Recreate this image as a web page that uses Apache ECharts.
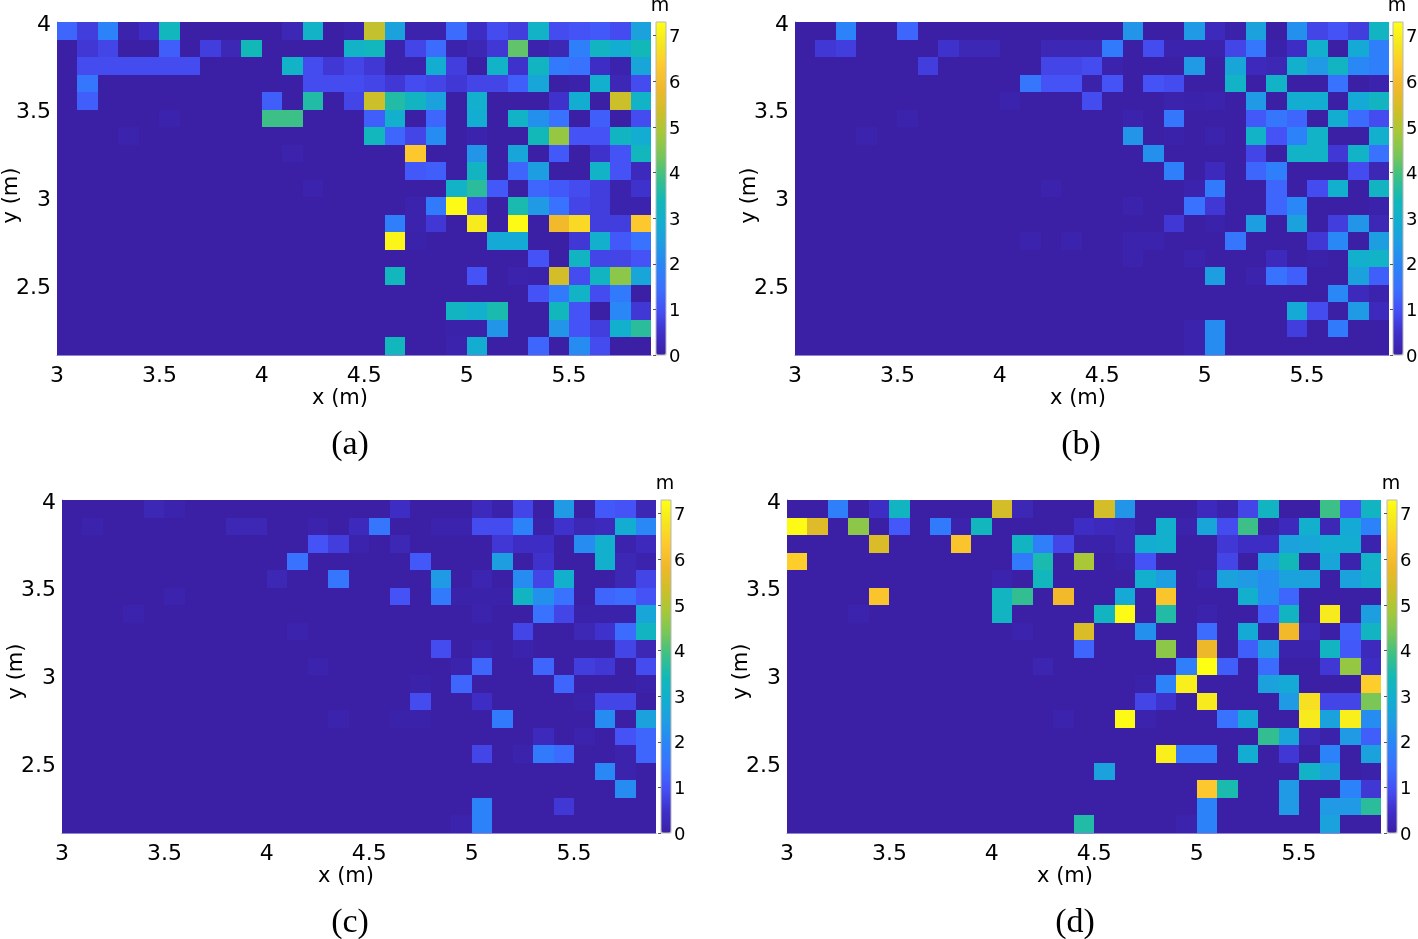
<!DOCTYPE html>
<html>
<head>
<meta charset="utf-8">
<style>html,body{margin:0;padding:0;background:#fff}#c{width:1418px;height:939px}</style>
<script src="https://cdn.jsdelivr.net/npm/echarts@6/dist/echarts.min.js"></script>
</head>
<body>
<div id="c"></div>
<script>
const xCells = [3.0,3.1,3.2,3.3,3.4,3.5,3.6,3.7,3.8,3.9,4.0,4.1,4.2,4.3,4.4,4.5,4.6,4.7,4.8,4.9,5.0,5.1,5.2,5.3,5.4,5.5,5.6,5.7,5.8];
const yCells = [3.9,3.8,3.7,3.6,3.5,3.4,3.3,3.2,3.1,3.0,2.9,2.8,2.7,2.6,2.5,2.4,2.3,2.2,2.1];
const xTicks = [3,3.5,4,4.5,5,5.5];
const yTicks = [2.5,3,3.5,4];
const barTicks = [0,1,2,3,4,5,6,7];
const captions = ['(a)','(b)','(c)','(d)'];

const panelA = [
[1.3,.7,1.9,.1,.4, 3.3,0,0,0,0, 0,.2,3.1,0,.1, 5.2,2.6,.1,.1,1.4, .4,.9,.7,3.1,.9, 1,1.1,.9,2.6],
[0,.6,.8,0,0, 1.2,0,.7,.2,3.4, 0,0,0,0,3.1, 3.3,.1,.8,1.4,.1, .2,.6,4.2,.1,.2, 1.8,3.2,2.9,3.4],
[0,.9,.9,.9,.9, .9,.9,0,0,0, 0,3.1,.9,.6,.8, .6,.1,.1,2.9,.7, 0,3.1,.5,3.2,1.7, 1.5,.4,.1,2.7],
[0,1.6,0,0,0, 0,0,0,0,0, 0,0,.9,.9,.9, .8,.6,.9,.8,.6, .8,.8,1.2,2.7,0, .05,3,.2,.9],
[0,1.2,0,0,0, 0,0,0,0,0, 1.2,0,3.6,0,.8, 5.3,3.6,3.2,2.6,0, 3,0,0,0,.5, 2.9,0,5.3,3.1],
[0,0,0,0,0, .1,0,0,0,0, 3.9,3.9,0,0,0, 1.2,3,0,1.3,0, 2.9,0,3.1,2.2,1.5, 0,1.2,0,.9],
[0,0,0,.1,0, 0,0,0,0,0, 0,0,0,0,0, 3.3,1.3,.8,2.1,0, .1,0,0,3.4,4.7, 1,1,3.2,2.9],
[0,0,0,0,0, 0,0,0,0,0, 0,.1,0,0,0, 0,0,6.3,0,0, 2.3,0,2.7,0,1.1, 0,.5,1,3.3],
[0,0,0,0,0, 0,0,0,0,0, 0,0,0,0,0, 0,0,1.1,1.2,0, 3.2,0,1.3,2.5,0, 0,3.1,1,.3],
[0,0,0,0,0, 0,0,0,0,0, 0,0,.1,0,0, 0,0,0,0,3.1, 3.7,1.1,0,1.3,1.1, .9,.7,.1,.5],
[0,0,0,0,0, 0,0,0,0,0, 0,0,0,0,0, 0,0,.1,1.7,7.2, .8,0,3.5,2.4,1.5, .8,.7,.1,.1],
[0,0,0,0,0, 0,0,0,0,0, 0,0,0,0,0, 0,1.8,.1,.6,0, 6.9,0,7.2,0,5.9, 6.6,.7,.7,6.3],
[0,0,0,0,0, 0,0,0,0,0, 0,0,0,0,0, 0,7.1,.05,0,0, 0,2.8,2.8,0,0, .6,3,1.1,1.5],
[0,0,0,0,0, 0,0,0,0,0, 0,0,0,0,0, 0,0,0,0,0, 0,0,0,1,0, 3.2,.8,.8,1],
[0,0,0,0,0, 0,0,0,0,0, 0,0,0,0,0, 0,3.3,0,0,0, 1,0,.1,.05,5.4, .9,3.2,4.6,2.7],
[0,0,0,0,0, 0,0,0,0,0, 0,0,0,0,0, 0,0,0,0,0, 0,0,0,1,1.7, 3.1,.9,1.7,0],
[0,0,0,0,0, 0,0,0,0,0, 0,0,0,0,0, 0,0,0,0,3.2, 3,3.5,0,0,3.3, 1,0,2,.6],
[0,0,0,0,0, 0,0,0,0,0, 0,0,0,0,0, 0,0,0,0,.05, .05,2.3,0,0,2.3, 1,.7,3,3.7],
[0,0,0,0,0, 0,0,0,0,0, 0,0,0,0,0, 0,3.3,0,0,.1, 2.9,0,0,1.3,0, 2.1,.9,0,0]
];
const panelB = [
[0,0,1.9,0,0, 1.3,0,0,0,0, 0,0,0,0,0, 0,2.3,0,0,2.4, .3,.05,2.6,0,2.2, .8,1,.7,3.2],
[0,.6,.7,0,0, 0,0,.5,.2,.2, 0,0,.2,.2,.2, 1.7,0,.9,.1,.1, .1,.8,1.6,.05,.4, 3,0,2.8,1.8],
[0,0,0,0,0, 0,.7,0,0,0, 0,0,.8,.8,.9, .1,0,0,0,2.4, 0,2.7,.3,.2,3, 2.4,3.2,2,1.8],
[0,0,0,0,0, 0,0,0,0,0, 0,1.6,1,1,.05, 1,0,1,.9,0, 0,3.1,0,3.1,0, 0,1.5,0,.1],
[0,0,0,0,0, 0,0,0,0,0, .1,0,0,0,.9, 0,0,0,.1,.05, .1,0,2.4,0,2.9, 2.9,0,2.8,3.2],
[0,0,0,0,0, .1,0,0,0,0, 0,0,0,0,0, 0,.1,0,1.6,0, 0,0,1.1,1.6,1.3, 0,2.9,1.4,.9],
[0,0,0,.1,0, 0,0,0,0,0, 0,0,0,0,0, 0,2.3,0,.05,0, .1,0,3.1,1,1.9, 3.1,0,0,3],
[0,0,0,0,0, 0,0,0,0,0, 0,0,0,0,0, 0,0,2.2,0,0, 0,0,.8,0,3.1, 3.1,.6,3.1,1.5],
[0,0,0,0,0, 0,0,0,0,0, 0,0,0,0,0, 0,0,0,1.8,0, .3,0,1.3,1.8,0, 0,0,.9,.2],
[0,0,0,0,0, 0,0,0,0,0, 0,0,.1,0,0, 0,0,0,0,.1, 1.7,0,0,1.3,0, .9,3,0,3.2],
[0,0,0,0,0, 0,0,0,0,0, 0,0,0,0,0, 0,.1,0,0,1.5, .6,0,0,1.3,2, 0,0,0,.05],
[0,0,0,0,0, 0,0,0,0,0, 0,0,0,0,0, 0,0,0,.6,0, .05,0,2.5,0,2.6, 0,.7,2.3,.2],
[0,0,0,0,0, 0,0,0,0,0, 0,.1,0,.1,0, 0,.1,.1,0,0, 0,1.6,0,0,0, .6,2,0,2.5],
[0,0,0,0,0, 0,0,0,0,0, 0,0,0,0,0, 0,.1,0,0,.1, 0,0,0,.3,0, .05,0,3,3.1],
[0,0,0,0,0, 0,0,0,0,0, 0,0,0,0,0, 0,0,0,0,0, 2.5,0,.1,1.5,1.2, 0,0,2.6,1.2],
[0,0,0,0,0, 0,0,0,0,0, 0,0,0,0,0, 0,0,0,0,0, 0,0,0,0,0, 0,2,.3,.1],
[0,0,0,0,0, 0,0,0,0,0, 0,0,0,0,0, 0,0,0,0,0, 0,0,0,0,2.8, .9,0,2.4,.3],
[0,0,0,0,0, 0,0,0,0,0, 0,0,0,0,0, 0,0,0,0,.1, 2.1,0,0,0,.7, 0,1.7,0,0],
[0,0,0,0,0, 0,0,0,0,0, 0,0,0,0,0, 0,0,0,0,.1, 2.1,0,0,0,0, 0,0,0,0]
];
const panelC = [
[0,0,0,0,.2, .1,0,0,0,0, 0,0,0,0,0, 0,.4,0,0,0, .3,.05,.8,0,2.4, 0,1.1,1,.2],
[0,.1,0,0,0, 0,0,0,.2,.2, 0,0,.1,0,.3, 1.6,0,0,.1,.1, .9,.9,1.9,.05,.5, .2,.3,2.9,2],
[0,0,0,0,0, 0,0,0,0,0, 0,0,1,.7,.1, 0,.2,0,0,0, 0,.6,.4,.4,0, 2.1,3,.1,.3],
[0,0,0,0,0, 0,0,0,0,0, 0,1.5,0,0,0, 0,0,1.1,0,0, 0,2.5,0,.5,0, 0,3,.2,.1],
[0,0,0,0,0, 0,0,0,0,0, .2,0,0,1.6,0, 0,0,0,2.4,0, .15,0,2.1,.8,3, 0,0,.2,.8],
[0,0,0,0,0, .1,0,0,0,0, 0,0,0,0,0, 0,1,0,1.7,.05, .05,.05,3.2,2.2,1.5, 0,1.3,1.4,1],
[0,0,0,.1,0, 0,0,0,0,0, 0,0,0,0,0, 0,0,0,0,0, .1,0,0,1.5,.8, .05,.05,.05,2.7],
[0,0,0,0,0, 0,0,0,0,0, 0,.1,0,0,0, 0,0,0,0,0, 0,0,.8,0,0, .2,.5,1.4,3.2],
[0,0,0,0,0, 0,0,0,0,0, 0,0,0,0,0, 0,0,0,.9,0, .1,0,.1,0,0, 0,0,.8,.2],
[0,0,0,0,0, 0,0,0,0,0, 0,0,.1,0,0, 0,0,0,0,.1, 1.3,0,0,1.3,0, .7,.6,0,.9],
[0,0,0,0,0, 0,0,0,0,0, 0,0,0,0,0, 0,0,.05,0,1.3, 0,0,0,0,1.3, 0,0,0,.05],
[0,0,0,0,0, 0,0,0,0,0, 0,0,0,0,0, 0,0,.9,0,0, .4,0,0,0,0, .05,.8,.8,0],
[0,0,0,0,0, 0,0,0,0,0, 0,0,0,.1,0, 0,.05,.05,0,0, 0,1.7,0,0,0, 0,2.1,0,2.6],
[0,0,0,0,0, 0,0,0,0,0, 0,0,0,0,0, 0,0,0,0,0, 0,0,0,.3,0, .1,0,1,1.3],
[0,0,0,0,0, 0,0,0,0,0, 0,0,0,0,0, 0,0,0,0,0, .8,0,.1,1.7,1.4, 0,0,.1,1.3],
[0,0,0,0,0, 0,0,0,0,0, 0,0,0,0,0, 0,0,0,0,0, 0,0,0,0,0, 0,2,.1,0],
[0,0,0,0,0, 0,0,0,0,0, 0,0,0,0,0, 0,0,0,0,0, 0,0,0,0,0, 0,0,2.1,0],
[0,0,0,0,0, 0,0,0,0,0, 0,0,0,0,0, 0,0,0,0,0, 1.9,0,0,0,.6, 0,0,0,0],
[0,0,0,0,0, 0,0,0,0,0, 0,0,0,0,0, 0,0,0,0,.1, 1.9,0,0,0,0, 0,0,0,0]
];
const panelD = [
[0,0,1.8,0,.4, 3.2,0,0,0,0, 5.4,.2,0,0,0, 5.4,2.3,0,0,0, .3,.1,.8,3.2,0, 0,3.9,1,3.2],
[7.2,5.6,0,4.6,0, 1.1,0,1.7,.1,3.3, 0,0,0,0,.4, .3,.2,0,3,.1, 2.7,.9,3.9,.05,.3, 3,.2,2.8,1.9],
[0,0,0,0,5.5, 0,0,0,6.2,0, 0,3.2,1.8,.8,.05, .05,.2,2.9,3,0, 0,.6,.4,.4,2.6, 2.7,2.9,2.9,.1],
[6.4,0,0,0,0, 0,0,0,0,0, 0,1.7,3.5,0,4.9, 0,.05,1,0,0, 0,.8,0,2.5,3.4, 0,2.7,.1,3.1],
[0,0,0,0,0, 0,0,0,0,0, .1,0,3.3,0,0, 0,0,3,2.5,0, .1,2.6,2.4,2.1,2.6, 2.6,0,2.6,3],
[0,0,0,0,6.2, 0,0,0,0,0, 3.2,3.8,0,5.9,0, 0,2.8,0,6.2,0, 0,0,3,2.1,1.3, 0,0,0,0],
[0,0,0,.1,0, 0,0,0,0,0, 3.2,0,0,0,0, 3.2,7.2,0,3.6,0, .1,0,0,1.2,3.2, 0,6.9,0,2.5],
[0,0,0,0,0, 0,0,0,0,0, 0,.1,0,0,5.5, 0,0,2.2,0,0, 1.4,0,2.8,0,5.9, .2,0,1.2,3.2],
[0,0,0,0,0, 0,0,0,0,0, 0,0,0,0,1.3, 0,0,0,4.6,0, 5.8,0,1.2,2.5,.1, .1,3.2,1.1,.3],
[0,0,0,0,0, 0,0,0,0,0, 0,0,.15,0,0, 0,0,0,0,1.8, 7.3,1.2,0,1.4,0, 0,.6,4.7,.4],
[0,0,0,0,0, 0,0,0,0,0, 0,0,0,0,0, 0,0,.05,1.9,7, 0,0,0,2.6,2.8, 0,0,0,6.4],
[0,0,0,0,0, 0,0,0,0,0, 0,0,0,0,0, 0,0,.8,.5,0, 6.9,0,0,0,2.4, 6.7,.8,.8,4.4],
[0,0,0,0,0, 0,0,0,0,0, 0,0,0,.1,0, 0,7.2,.1,0,0, 0,1.5,2.8,0,0, 6.9,2.6,7,2.1],
[0,0,0,0,0, 0,0,0,0,0, 0,0,0,0,0, 0,0,0,0,0, 0,0,0,3.8,2.7, .2,.05,2.4,1.2],
[0,0,0,0,0, 0,0,0,0,0, 0,0,0,0,0, 0,0,0,7,1.7, 1.7,0,2.9,0,.6, 0,1.9,0,2.6],
[0,0,0,0,0, 0,0,0,0,0, 0,0,0,0,0, 2.6,0,0,0,0, 0,0,0,0,0, 3.1,2.6,0,.05],
[0,0,0,0,0, 0,0,0,0,0, 0,0,0,0,0, 0,0,0,0,0, 6.3,3.5,0,0,2.4, 0,0,1.9,.6],
[0,0,0,0,0, 0,0,0,0,0, 0,0,0,0,0, 0,0,0,0,0, 1.9,0,0,0,2.4, 0,2.4,2.4,3.7],
[0,0,0,0,0, 0,0,0,0,0, 0,0,0,0,3.6, 0,0,0,0,.1, 1.9,0,0,0,0, 0,2.6,0,0]
];
const panels = [panelA, panelB, panelC, panelD];

const colorStops = ['#3b20a6','#3f30ca','#4550f6','#3a70ff','#2a84f8','#1f9ce4','#12aed0','#12b8b8','#3bc088','#78c658','#a6c838','#d0be28','#f0b82a','#fec82e','#f5e61f','#ffff14'];

/* layout: plot rectangle [left, top, width, height], captions and axis-title offsets */
const layout = [
  {plot:[57,22,594,333],  bar:[656,22,10,333],  cap:[350,428],  xPad:28, yPad:14},
  {plot:[795,22,594,333], bar:[1393,22,10,333], cap:[1081,428], xPad:28, yPad:14},
  {plot:[62,500,594,333], bar:[661,500,10,333], cap:[350,906],  xPad:26, yPad:10},
  {plot:[787,500,594,333],bar:[1387,500,10,333],cap:[1075,906], xPad:38, yPad:10}
];
const sans = '"DejaVu Sans"';

const option = {
  backgroundColor:'#ffffff', animation:false,
  title:[], grid:[], xAxis:[], yAxis:[], visualMap:[], series:[]
};
panels.forEach((matrix,i)=>{
  const L = layout[i];
  const data = [];
  matrix.forEach((row,r)=>row.forEach((v,c)=>data.push([xCells[c],yCells[r],v])));
  option.grid.push({left:L.plot[0],top:L.plot[1],width:L.plot[2],height:L.plot[3],outerBoundsMode:'none'});
  option.grid.push({left:L.bar[0],top:L.bar[1],width:L.bar[2],height:L.bar[3],outerBoundsMode:'none',show:true,borderColor:'#b8b8b8',borderWidth:1,backgroundColor:'transparent',z:5});
  option.xAxis.push({
    gridIndex:2*i,type:'value',min:3,max:5.9,splitLine:{show:false},
    axisLine:{show:true,onZero:false,lineStyle:{color:'#8f85cf',width:1}},axisTick:{show:false},
    axisLabel:{customValues:xTicks,margin:10,color:'#000',fontFamily:sans,fontSize:22,formatter:v=>String(v)},
    name:'x (m)',nameLocation:'middle',nameGap:33,nameMoveOverlap:false,
    nameTextStyle:{color:'#000',fontFamily:sans,fontSize:21,padding:[0,L.xPad,0,0]}
  });
  option.yAxis.push({
    gridIndex:2*i,type:'value',min:2.1,max:4,splitLine:{show:false},
    axisLine:{show:true,onZero:false,lineStyle:{color:'#8f85cf',width:1}},axisTick:{show:false},
    axisLabel:{customValues:yTicks,margin:6,formatter:v=>'{s|'+v+'}',
      rich:{s:{color:'#000',fontFamily:sans,fontSize:22,padding:[6,0,0,0]}}},
    name:'y (m)',nameLocation:'middle',nameGap:35,nameRotate:90,nameMoveOverlap:false,
    nameTextStyle:{color:'#000',fontFamily:sans,fontSize:21,padding:[0,L.yPad,0,0]}
  });
  option.xAxis.push({gridIndex:2*i+1,type:'value',min:0,max:1,show:false});
  option.yAxis.push({
    gridIndex:2*i+1,type:'value',min:0,max:7.3,position:'right',splitLine:{show:false},
    axisLine:{show:false},
    axisTick:{show:true,inside:true,length:3,customValues:barTicks,lineStyle:{color:'#555',width:1}},
    axisLabel:{customValues:barTicks,margin:3,formatter:v=>'{s|'+v+'}',
      rich:{s:{color:'#000',fontFamily:sans,fontSize:18,padding:[4,0,0,0]}}},
    name:'m',nameLocation:'end',nameGap:6,nameMoveOverlap:false,
    nameTextStyle:{color:'#000',fontFamily:sans,fontSize:19,padding:[0,0,0,8]},z:6
  });
  option.visualMap.push({
    type:'continuous',seriesIndex:i,dimension:2,min:0,max:7.3,calculable:false,hoverLink:false,
    left:L.bar[0],top:L.bar[1],itemWidth:L.bar[2],itemHeight:L.bar[3],padding:0,text:null,showLabel:false,
    inRange:{color:colorStops}
  });
  option.series.push({
    type:'custom',xAxisIndex:2*i,yAxisIndex:2*i,data:data,
    encode:{x:0,y:1},clip:true,silent:true,
    renderItem:(params,api)=>{
      const p0 = api.coord([api.value(0),api.value(1)+0.1]);
      const p1 = api.coord([api.value(0)+0.1,api.value(1)]);
      const x0=Math.round(p0[0]),y0=Math.round(p0[1]),x1=Math.round(p1[0]),y1=Math.round(p1[1]);
      return {type:'rect',shape:{x:x0,y:y0,width:x1-x0,height:y1-y0},style:{fill:api.visual('color')}};
    }
  });
  option.title.push({
    text:captions[i],left:L.cap[0],top:L.cap[1],textAlign:'center',padding:0,
    textStyle:{fontFamily:'"Liberation Serif"',fontSize:34,fontWeight:'normal',color:'#000'}
  });
});
const chart = echarts.init(document.getElementById('c'),null,{renderer:'canvas'});
chart.setOption(option);
</script>
</body>
</html>
